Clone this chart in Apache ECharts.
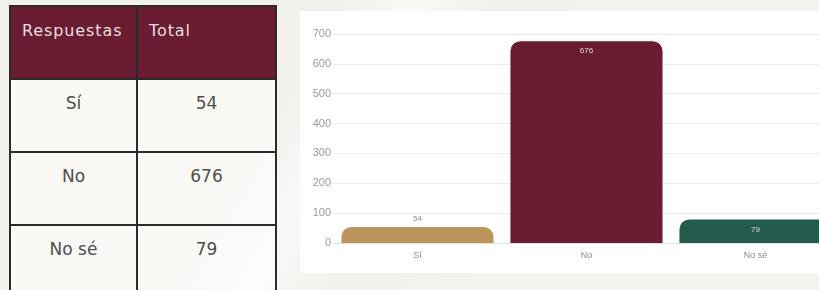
<!DOCTYPE html>
<html>
<head>
<meta charset="utf-8">
<script src="https://cdn.jsdelivr.net/npm/echarts@6/dist/echarts.min.js"></script>
<style>
    html, body {
        margin: 0;
        width: 819px;
        height: 290px;
        overflow: hidden;
        font-family: "DejaVu Sans", sans-serif;
        background: linear-gradient(120deg, #f3f1ec 0%, #f3f1ec 35%, #faf9f6 42%, #f3f1ec 50%, #f6f4f0 100%);
        position: relative;
    }
    #tabla {
        position: absolute;
        left: 9px;
        top: 5px;
        width: 268px;
        border-collapse: collapse;
    }
    #tabla th, #tabla td {
        border: 2px solid #2e2a2b;
        box-sizing: border-box;
        line-height: 20px;
    }
    #tabla th {
        background: #691c32;
        color: #ecdde1;
        font-weight: normal;
        font-size: 16px;
        text-align: left;
        vertical-align: top;
        height: 73px;
        padding: 14px 0 0 11px;
        letter-spacing: 0.9px;
    }
    #tabla td {
        color: #4e4e4e;
        font-size: 17px;
        text-align: center;
        vertical-align: top;
        height: 73px;
        padding-top: 13px;
        background: rgba(255, 255, 255, 0.55);
    }
    #panel {
        position: absolute;
        left: 300px;
        top: 11px;
        width: 560px;
        height: 262px;
        background: #fff;
    }
    #chart {
        width: 560px;
        height: 262px;
    }
</style>
</head>
<body>
<table id="tabla"></table>
<div id="panel"><div id="chart"></div></div>
<script>
    var headers = ['Respuestas', 'Total'];
    var respuestas = ['Sí', 'No', 'No sé'];
    var totales = [54, 676, 79];
    var colores = ['#bc955c', '#691c32', '#235b4e'];
    var etiquetaDentro = [false, true, true];

    // tabla de la izquierda
    var html = '<tr><th style="width:127px">' + headers[0] + '</th><th>' + headers[1] + '</th></tr>';
    for (var i = 0; i < respuestas.length; i++) {
        html += '<tr><td>' + respuestas[i] + '</td><td>' + totales[i] + '</td></tr>';
    }
    document.getElementById('tabla').innerHTML = html;

    var chart = echarts.init(document.getElementById('chart'));
    var datos = totales.map(function (v, i) {
        return {
            value: v,
            itemStyle: { color: colores[i] },
            label: etiquetaDentro[i]
                ? { position: 'insideTop', color: '#e6d5da', distance: 6 }
                : { position: 'top', color: '#8a8a8a', distance: 4 }
        };
    });
    chart.setOption({
        animation: false,
        grid: { left: 33, right: 20, top: 23, bottom: 30 },
        xAxis: {
            type: 'category',
            data: respuestas,
            axisLine: { lineStyle: { color: '#e2e2e2' } },
            axisTick: { show: false },
            axisLabel: { color: '#8a8a8a', fontSize: 9, margin: 8 }
        },
        yAxis: {
            type: 'value',
            min: 0,
            max: 700,
            interval: 100,
            axisLabel: { color: '#9a9a9a', fontSize: 11, margin: 2 },
            splitLine: { lineStyle: { color: '#ececf0' } }
        },
        series: [
            {
                type: 'bar',
                barCategoryGap: '10%',
                itemStyle: { borderRadius: [10, 10, 0, 0] },
                label: { show: true, fontSize: 8 },
                data: datos
            }
        ]
    });
</script>
</body>
</html>
